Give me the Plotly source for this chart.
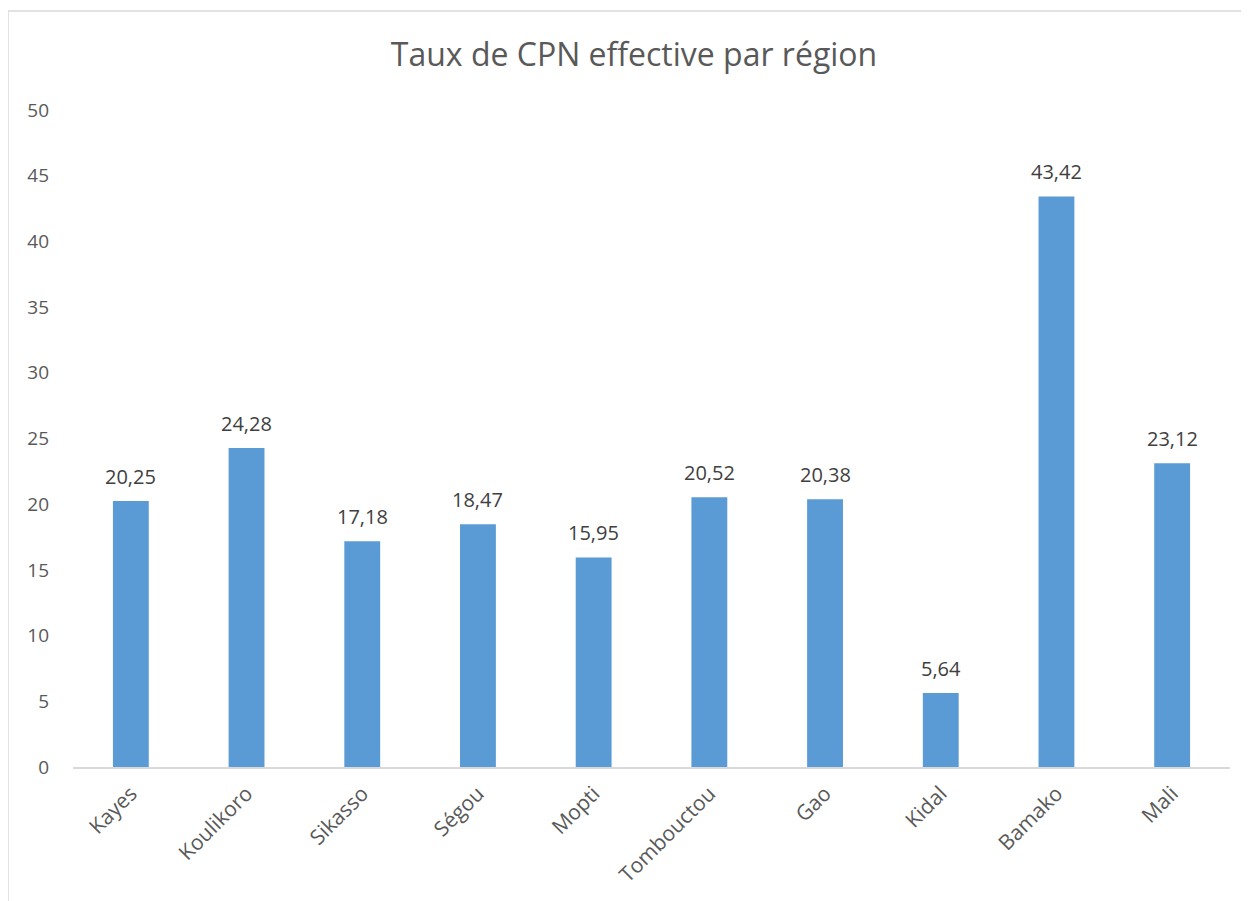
import plotly.graph_objects as go

regions = ["Kayes", "Koulikoro", "Sikasso", "Ségou", "Mopti", "Tombouctou", "Gao", "Kidal", "Bamako", "Mali"]
values = [20.25, 24.28, 17.18, 18.47, 15.95, 20.52, 20.38, 5.64, 43.42, 23.12]
y_ticks = [0, 5, 10, 15, 20, 25, 30, 35, 40, 45, 50]

FONT = "Open Sans, Liberation Sans, sans-serif"

fig = go.Figure(go.Bar(
    x=regions, y=values,
    marker=dict(color="#5B9BD5", line=dict(width=0)),
    cliponaxis=False,
))

for r, v in zip(regions, values):
    fig.add_annotation(x=r, y=v, text=f"{v:.2f}".replace(".", ","), showarrow=False,
                       yanchor="bottom", yshift=9,
                       font=dict(family=FONT, size=20, color="#404040"))

fig.update_layout(
    width=1249, height=901,
    paper_bgcolor="white", plot_bgcolor="white",
    margin=dict(l=65, r=27, t=102, b=142),
    bargap=0.69,
    showlegend=False,
    title=dict(text="Taux de CPN effective par région", x=626/1249, xref="container",
               xanchor="center", y=1 - 47/901, yref="container", yanchor="middle",
               font=dict(family=FONT, size=32, color="#595959")),
    xaxis=dict(showline=True, linecolor="#D9D9D9", linewidth=2, ticks="",
               tickangle=-45, tickfont=dict(family=FONT, size=21, color="#595959"),
               ticklabelstandoff=4, showgrid=False),
    yaxis=dict(range=[0, 50], tickvals=y_ticks, showgrid=False, zeroline=False,
               showline=False, ticks="", ticklabelstandoff=23,
               tickfont=dict(family=FONT, size=19, color="#595959")),
    shapes=[dict(type="rect", xref="paper", yref="paper",
                 x0=-65/1157, x1=1.2, y0=-0.5, y1=1 + 99/657,
                 line=dict(color="#D9D9D9", width=1.5), layer="below")],
)

fig.write_html("out.html")
